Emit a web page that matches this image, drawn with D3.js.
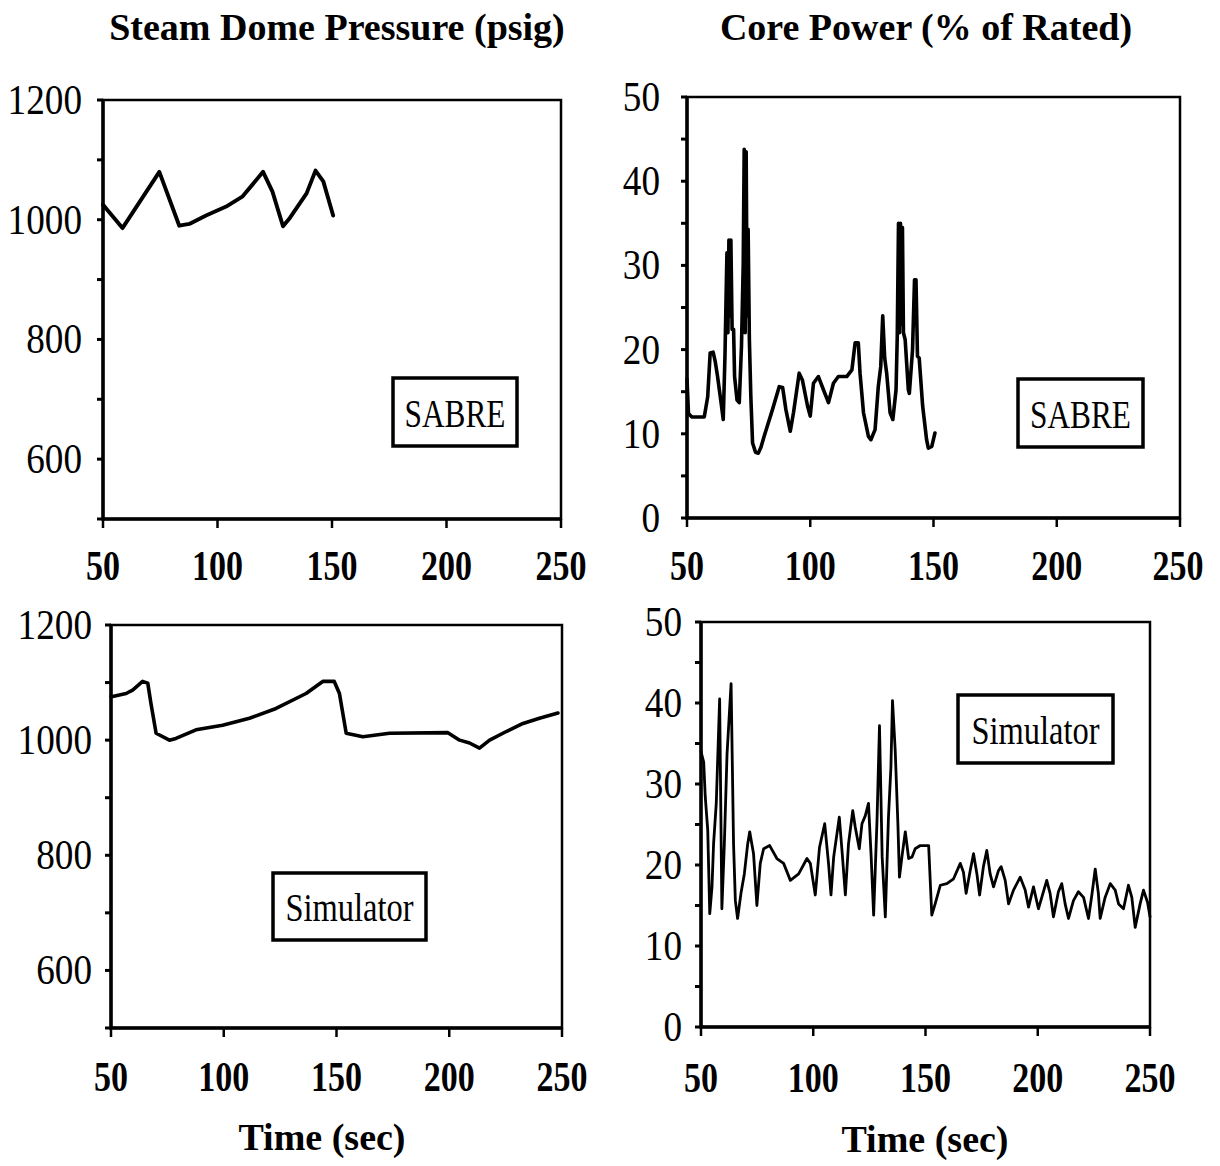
<!DOCTYPE html>
<html>
<head>
<meta charset="utf-8">
<script src="https://cdn.jsdelivr.net/npm/d3@7"></script>
<style>
  body { margin: 0; background: #fff; }
  svg { display: block; }
</style>
</head>
<body>
<svg id="chart" width="1220" height="1166"></svg>
<script>
// ---- data ----
const timeTicks = [50, 100, 150, 200, 250];
const pressureTicks = [500, 600, 700, 800, 900, 1000, 1100, 1200];
const pressureLabels = [600, 800, 1000, 1200];
const powerTicks = [0, 5, 10, 15, 20, 25, 30, 35, 40, 45, 50];
const powerLabels = [0, 10, 20, 30, 40, 50];

// [time (sec), psig]
const sabrePressure = [
  [50, 1025], [58.5, 986], [74.6, 1080], [83.3, 990], [87.7, 993], [95, 1007],
  [103.8, 1022], [111, 1039], [119.9, 1080], [124, 1047], [128.6, 989],
  [131.6, 1003], [138.9, 1044], [142.8, 1082], [146.2, 1064], [150.5, 1007]
];

// [time (sec), % of rated]
const sabrePower = [
  [50, 16.5], [50.6, 12.4], [52, 12], [57, 12], [58.4, 14.4], [59.4, 19.6],
  [60.6, 19.7], [61.5, 18.5], [62.4, 16.8], [64, 13.3], [64.7, 11.7], [65.4, 19.2],
  [66.2, 31.5], [66.6, 22], [67, 33], [67.4, 24], [67.8, 33], [68.3, 22.4],
  [68.9, 22.4], [69.3, 16.8], [70.3, 14], [71.2, 13.7], [72.1, 20.4], [72.8, 30],
  [73.2, 43.8], [73.6, 22], [74, 43.5], [74.4, 24], [74.8, 34.3], [75.3, 21.2],
  [75.9, 14.4], [76.6, 8.9], [77.8, 7.8], [78.9, 7.7], [80, 8.4], [81.3, 9.7], [84.7, 12.9], [87.4, 15.6],
  [88.8, 15.5], [90.1, 12.9], [91.9, 10.3], [93.2, 12.5], [95.5, 17.2], [96.8, 16.4],
  [98.9, 13.3], [100, 12.1], [101.3, 16], [103.3, 16.8], [105.4, 15.2], [107.4, 13.7],
  [109.4, 16], [111.4, 16.8], [114.8, 16.8], [116.9, 17.6], [118.2, 20.8], [119.5, 20.8],
  [120.2, 17.2], [121.6, 12.5], [123.6, 9.7], [124.6, 9.3], [126.3, 10.5], [127.6, 15.6],
  [128.6, 18], [129.4, 24], [130.2, 19], [131, 17.2], [132.4, 12.5], [133.5, 11.7],
  [134.8, 15.2], [135.3, 21.6], [135.8, 35], [136.2, 22], [136.6, 35], [137, 23],
  [137.4, 34.5], [137.8, 22], [138.5, 21.2], [139.8, 15.2], [140.2, 14.8], [141.5, 20],
  [142.3, 28.3], [142.9, 28.3], [143.5, 19.2], [144.2, 19], [145.6, 13.3], [147.2, 9.3],
  [147.9, 8.3], [149.3, 8.5], [150.6, 10.1]
];

const simPressure = [
  [50, 1076], [50.7, 1076], [56.7, 1081], [59.6, 1087], [64, 1102], [66.3, 1099],
  [67.7, 1064], [70, 1012], [75.9, 1000], [78.8, 1003], [87.7, 1018], [99.5, 1026],
  [111.4, 1038], [123.2, 1055], [136.5, 1081], [143.9, 1102], [149, 1102], [151.3, 1081],
  [154.3, 1012], [161.7, 1006], [173.5, 1012], [199.4, 1013], [204.6, 1000], [209, 995],
  [213.4, 986], [217.9, 1000], [225.3, 1015], [232.7, 1029], [240, 1038], [248.2, 1047]
];

const simPower = [
  [50, 34], [51.2, 32.7], [51.9, 28.4], [53, 24.3], [53.9, 14], [54.9, 17.3],
  [55.6, 22.6], [56.8, 27.6], [58.3, 40.5], [59.3, 14.6], [60.4, 22.6], [61.6, 33.7],
  [63.4, 42.4], [64.5, 22.6], [65.3, 15.6], [66.3, 13.4], [67.8, 16.5], [69.3, 18.9],
  [70.8, 22.6], [71.7, 24.1], [73.4, 21.4], [74.9, 15], [76.4, 20.2], [77.9, 22],
  [80.6, 22.4], [83.8, 20.8], [86.8, 20.2], [89.8, 18.1], [93.5, 18.9], [97.2, 20.8],
  [98.7, 20.2], [100.9, 16.3], [102.8, 22.2], [105.1, 25.1], [106.8, 20.2], [107.9, 16.3],
  [109.1, 21], [111.6, 25.9], [112.8, 21.8], [114.3, 16.3], [115.7, 22.6], [117.6, 26.7],
  [118.7, 24.7], [120.5, 22], [121.7, 25.1], [123.2, 26.1], [124.6, 27.6], [125.8, 21],
  [126.9, 13.8], [128.4, 25.5], [129.5, 37.2], [130.7, 21], [132.1, 13.6], [133.5, 25.9],
  [134.6, 32.1], [135.3, 40.3], [136.5, 34.2], [137.7, 25.1], [138.4, 18.5], [139.5, 21],
  [141, 24.1], [142.5, 20.8], [144, 21], [145.4, 22], [147.7, 22.4], [151.4, 22.4],
  [152.8, 13.8], [154.3, 15.2], [156.6, 17.5], [159.5, 17.7], [162.5, 18.3], [165.5, 20.2],
  [166.9, 19.1], [168.1, 16.5], [169.9, 19.3], [171.4, 21.4], [172.9, 18.9], [174.1, 16.3],
  [175.8, 19.8], [177.3, 21.8], [178.8, 18.9], [180.3, 17.3], [182.5, 19.3], [183.7, 19.8],
  [185.5, 18.1], [187, 15.2], [189.2, 16.9], [192.2, 18.5], [194.4, 16.9], [195.9, 14.8],
  [198.1, 17.3], [200.3, 14.6], [201.8, 16], [204, 18.1], [205.5, 16.5], [207, 13.6],
  [209.2, 16.7], [210.7, 17.7], [212.2, 15.2], [213.7, 13.4], [215.9, 15.6], [218.1, 16.7],
  [220.4, 16], [222.6, 13.4], [224.1, 16.3], [225.6, 19.5], [227, 16.5], [227.8, 13.4],
  [230, 16], [232.3, 17.7], [234.5, 16.9], [236, 15.2], [238.2, 14.6], [240.4, 17.5],
  [241.9, 16], [243.4, 12.3], [245.6, 15.2], [247.1, 16.9], [248.9, 15.4], [250, 13.6]
];

const serif = "'Liberation Serif', 'Times New Roman', serif";
const svg = d3.select("#chart");

/**
 * Draws one framed panel: axes, line and the boxed label.
 */
function drawPanel(o) {
  const x = d3.scaleLinear().domain([50, 250]).range([o.left, o.right]);
  const y = d3.scaleLinear().domain(o.yDomain).range([o.bottom, o.top]);
  const g = svg.append("g");

  // frame
  g.append("rect")
    .attr("x", o.left).attr("y", o.top)
    .attr("width", o.right - o.left).attr("height", o.bottom - o.top)
    .attr("fill", "none").attr("stroke", "#000").attr("stroke-width", 2.5);
  g.append("path")
    .attr("d", `M${o.left},${o.top}V${o.bottom}H${o.right}`)
    .attr("fill", "none").attr("stroke", "#000").attr("stroke-width", 3.5);

  // y ticks (short, outward)
  g.selectAll(".yt").data(o.yTicks).join("line")
    .attr("x1", o.left - 6).attr("x2", o.left)
    .attr("y1", d => y(d)).attr("y2", d => y(d))
    .attr("stroke", "#000").attr("stroke-width", 3);

  // y labels
  g.selectAll(".yl").data(o.yLabels).join("text")
    .attr("x", o.left - o.yGap).attr("y", d => y(d))
    .attr("text-anchor", "end").attr("dominant-baseline", "central")
    .attr("font-family", serif).attr("font-size", 42)
    .attr("textLength", d => String(d).length * 18.6)
    .attr("lengthAdjust", "spacingAndGlyphs")
    .text(d => d);

  // x ticks (downward)
  g.selectAll(".xt").data(timeTicks).join("line")
    .attr("x1", d => x(d)).attr("x2", d => x(d))
    .attr("y1", o.bottom).attr("y2", o.bottom + 9)
    .attr("stroke", "#000").attr("stroke-width", 2.5);

  // keep the last label inside the page edge
  g.selectAll(".xl").data(timeTicks).join("text")
    .attr("x", d => Math.min(x(d), 1178)).attr("y", o.bottom + o.xDy)
    .attr("text-anchor", "middle").attr("dominant-baseline", "central")
    .attr("font-family", serif).attr("font-size", 43).attr("font-weight", "bold")
    .attr("textLength", d => String(d).length * 17)
    .attr("lengthAdjust", "spacingAndGlyphs")
    .text(d => d);

  // data line
  const line = d3.line().x(d => x(d[0])).y(d => y(d[1]));
  g.append("path")
    .datum(o.series)
    .attr("d", line)
    .attr("fill", "none").attr("stroke", "#000")
    .attr("stroke-width", o.lineWidth)
    .attr("stroke-linejoin", "round").attr("stroke-linecap", "round");

  // boxed label
  const b = o.box;
  g.append("rect")
    .attr("x", b.x).attr("y", b.y).attr("width", b.w).attr("height", b.h)
    .attr("fill", "#fff").attr("stroke", "#000").attr("stroke-width", 3.5);
  g.append("text")
    .attr("x", b.x + b.w / 2).attr("y", b.y + b.h / 2 + 1)
    .attr("text-anchor", "middle").attr("dominant-baseline", "central")
    .attr("font-family", serif).attr("font-size", 40)
    .attr("textLength", b.tw).attr("lengthAdjust", "spacingAndGlyphs")
    .text(b.label);
}

drawPanel({
  left: 103, right: 561, top: 100, bottom: 519,
  yDomain: [500, 1200], yTicks: pressureTicks, yLabels: pressureLabels, yGap: 21,
  xDy: 46, series: sabrePressure, lineWidth: 3.9,
  box: { x: 393, y: 378, w: 124, h: 68, label: "SABRE", tw: 101 }
});
drawPanel({
  left: 687, right: 1180, top: 97, bottom: 518,
  yDomain: [0, 50], yTicks: powerTicks, yLabels: powerLabels, yGap: 27,
  xDy: 47, series: sabrePower, lineWidth: 3.6,
  box: { x: 1018, y: 379, w: 125, h: 68, label: "SABRE", tw: 101 }
});
drawPanel({
  left: 111, right: 562, top: 625, bottom: 1028,
  yDomain: [500, 1200], yTicks: pressureTicks, yLabels: pressureLabels, yGap: 19,
  xDy: 48, series: simPressure, lineWidth: 3.6,
  box: { x: 273, y: 873, w: 153, h: 67, label: "Simulator", tw: 128 }
});
drawPanel({
  left: 701, right: 1150, top: 622, bottom: 1027,
  yDomain: [0, 50], yTicks: powerTicks, yLabels: powerLabels, yGap: 19,
  xDy: 50, series: simPower, lineWidth: 2.8,
  box: { x: 958, y: 695, w: 155, h: 68, label: "Simulator", tw: 128 }
});

// column titles and x-axis titles
const titles = [
  { text: "Steam Dome Pressure (psig)", x: 337, y: 40 },
  { text: "Core Power (% of Rated)", x: 926, y: 40 },
  { text: "Time (sec)", x: 322, y: 1150 },
  { text: "Time (sec)", x: 925, y: 1152 }
];
svg.selectAll(".title").data(titles).join("text")
  .attr("x", d => d.x).attr("y", d => d.y)
  .attr("text-anchor", "middle")
  .attr("font-family", serif).attr("font-size", 38).attr("font-weight", "bold")
  .text(d => d.text);
</script>
</body>
</html>
